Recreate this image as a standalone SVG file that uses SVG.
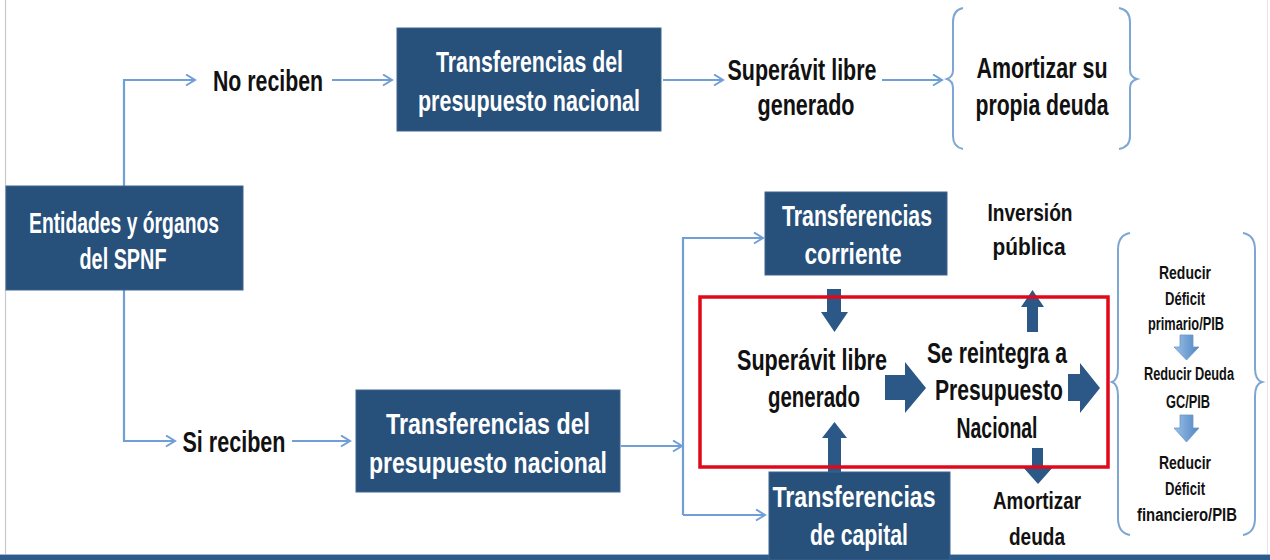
<svg xmlns="http://www.w3.org/2000/svg" width="1270" height="560" viewBox="0 0 1270 560">
<style>
.box{fill:#27507a;stroke:#3d6791;stroke-width:1}
.t{font-family:"Liberation Sans Narrow","Liberation Sans",Arial,sans-serif;font-weight:bold;text-anchor:middle}
.w{fill:#ffffff;font-size:29px}
.k{fill:#111111;font-size:29px}
.s{fill:#111111;font-size:24px}
.r{fill:#111111;font-size:17.5px}
.ln{fill:none;stroke:#6f9fd6;stroke-width:2.2}
.br{fill:none;stroke:#7ea6d3;stroke-width:2}
.blk{fill:#2b5886}
.lb{fill:url(#lbg);stroke:#6d98c8;stroke-width:0.8}
</style>
<defs>
<marker id="ah" markerUnits="userSpaceOnUse" markerWidth="14" markerHeight="14" refX="10" refY="6" orient="auto">
<path d="M1,0.5 L10,6 L1,11.5" fill="none" stroke="#6f9fd6" stroke-width="2"/>
</marker>
<linearGradient id="lbg" x1="0" y1="0" x2="1" y2="0">
<stop offset="0" stop-color="#9cc0e8"/>
<stop offset="1" stop-color="#4f86c2"/>
</linearGradient>
</defs>
<rect x="0" y="0" width="1270" height="560" fill="#ffffff"/>
<line x1="5.5" y1="0" x2="5.5" y2="555" stroke="#c8c8c8" stroke-width="1.2"/>
<line x1="1267.5" y1="0" x2="1267.5" y2="555" stroke="#e6e6e6" stroke-width="1"/>
<rect x="0" y="554" width="1270" height="6" fill="#2d5c8a"/>
<line x1="0" y1="554.5" x2="1270" y2="554.5" stroke="#9bb8d6" stroke-width="1"/>

<g id="connectors">
<path class="ln" d="M124,186 V80 H195" marker-end="url(#ah)"/>
<path class="ln" d="M332,80 H392" marker-end="url(#ah)"/>
<path class="ln" d="M663,80 H723" marker-end="url(#ah)"/>
<path class="ln" d="M882,80 H942" marker-end="url(#ah)"/>
<path class="ln" d="M124,290 V441 H175" marker-end="url(#ah)"/>
<path class="ln" d="M292,441 H350" marker-end="url(#ah)"/>
<path class="ln" d="M621,446 H682" marker-end="url(#ah)"/>
<path class="ln" d="M683,515 V238 H763" marker-end="url(#ah)"/>
<path class="ln" d="M683,515 H765" marker-end="url(#ah)"/>
<polygon class="blk" points="827,289 841,289 841,312 848,312 834.5,332 821,312 827,312"/>
<polygon class="blk" points="828,472 841,472 841,438 847,438 834.5,422 822,438 828,438"/>
<polygon class="blk" points="885,375 905,375 905,362 926,388 905,413 905,400 885,400"/>
<polygon class="blk" points="1068,374 1080,374 1080,363 1100,388 1080,413 1080,401 1068,401"/>
<polygon class="blk" points="1027,332 1038,332 1038,307 1044,307 1032.5,290 1021,307 1027,307"/>
<polygon class="blk" points="1032,448 1043,448 1043,466 1054,466 1038,484 1022,466 1032,466"/>
<polygon class="lb" points="1180,335 1193,335 1193,347 1199,347 1186.5,360 1174,347 1180,347"/>
<polygon class="lb" points="1180,415 1193,415 1193,428 1199,428 1186.5,442 1174,428 1180,428"/>
</g>

<g id="node-entidades">
<rect class="box" x="6" y="186" width="237" height="104"/>
<text class="t w" x="124" y="233" textLength="190" lengthAdjust="spacingAndGlyphs">Entidades y órganos</text>
<text class="t w" x="123" y="269" textLength="87" lengthAdjust="spacingAndGlyphs">del SPNF</text>
</g>

<g id="node-no-reciben">
<text class="t k" x="268" y="91" textLength="110" lengthAdjust="spacingAndGlyphs">No reciben</text>
</g>

<g id="node-transf-top">
<rect class="box" x="397" y="28" width="264" height="103"/>
<text class="t w" x="529.5" y="72" textLength="187" lengthAdjust="spacingAndGlyphs">Transferencias del</text>
<text class="t w" x="529" y="111" textLength="222" lengthAdjust="spacingAndGlyphs">presupuesto nacional</text>
</g>

<g id="node-superavit-top">
<text class="t k" x="802" y="80" textLength="149" lengthAdjust="spacingAndGlyphs">Superávit libre</text>
<text class="t k" x="806" y="115" textLength="97" lengthAdjust="spacingAndGlyphs">generado</text>
</g>

<g id="node-amortizar-propia">
<path class="br" d="M963,8 Q953,10 953,22 L953,70 Q953,77 947,79 Q953,81 953,88 L953,136 Q953,147 963,149"/>
<path class="br" d="M1119,8 Q1130,10 1130,22 L1130,70 Q1130,77 1137,79 Q1130,81 1130,88 L1130,136 Q1130,147 1119,149"/>
<text class="t k" x="1042" y="78" textLength="131" lengthAdjust="spacingAndGlyphs">Amortizar su</text>
<text class="t k" x="1042" y="115" textLength="133" lengthAdjust="spacingAndGlyphs">propia deuda</text>
</g>

<g id="node-si-reciben">
<text class="t k" x="234" y="452" textLength="103" lengthAdjust="spacingAndGlyphs">Si reciben</text>
</g>

<g id="node-transf-bottom">
<rect class="box" x="356" y="390" width="264" height="102"/>
<text class="t w" x="488" y="434" textLength="204" lengthAdjust="spacingAndGlyphs">Transferencias del</text>
<text class="t w" x="488" y="473" textLength="238" lengthAdjust="spacingAndGlyphs">presupuesto nacional</text>
</g>

<g id="node-transf-corriente">
<rect class="box" x="765" y="192" width="182" height="83"/>
<text class="t w" x="857" y="226" textLength="150" lengthAdjust="spacingAndGlyphs">Transferencias</text>
<text class="t w" x="853" y="264" textLength="97" lengthAdjust="spacingAndGlyphs">corriente</text>
</g>

<g id="node-transf-capital">
<rect class="box" x="769" y="472" width="181" height="88"/>
<text class="t w" x="854" y="507" textLength="163" lengthAdjust="spacingAndGlyphs">Transferencias</text>
<text class="t w" x="859" y="545" textLength="98" lengthAdjust="spacingAndGlyphs">de capital</text>
</g>

<g id="node-inversion">
<text class="t s" x="1030" y="221" textLength="85" lengthAdjust="spacingAndGlyphs">Inversión</text>
<text class="t s" x="1029" y="255" textLength="73" lengthAdjust="spacingAndGlyphs">pública</text>
</g>

<g id="node-highlight">
<rect x="700" y="297" width="408" height="170" fill="none" stroke="#e0081a" stroke-width="3.5"/>
</g>

<g id="node-superavit-box">
<text class="t k" x="812" y="370" textLength="150" lengthAdjust="spacingAndGlyphs">Superávit libre</text>
<text class="t k" x="814" y="407" textLength="92" lengthAdjust="spacingAndGlyphs">generado</text>
</g>

<g id="node-reintegra">
<text class="t k" x="997" y="363" textLength="140" lengthAdjust="spacingAndGlyphs">Se reintegra a</text>
<text class="t k" x="999" y="400" textLength="128" lengthAdjust="spacingAndGlyphs">Presupuesto</text>
<text class="t k" x="997" y="438" textLength="81" lengthAdjust="spacingAndGlyphs">Nacional</text>
</g>

<g id="node-amortizar-deuda">
<text class="t s" x="1037" y="509" textLength="88" lengthAdjust="spacingAndGlyphs">Amortizar</text>
<text class="t s" x="1037" y="545" textLength="56" lengthAdjust="spacingAndGlyphs">deuda</text>
</g>

<g id="node-objetivos">
<path class="br" d="M1130,233 Q1118,235 1118,250 L1118,368 Q1118,380 1112,382 Q1118,384 1118,396 L1118,518 Q1118,533 1130,535"/>
<path class="br" d="M1243,233 Q1255,235 1255,250 L1255,368 Q1255,380 1262,382 Q1255,384 1255,396 L1255,518 Q1255,533 1243,535"/>
<text class="t r" x="1185" y="279" textLength="52" lengthAdjust="spacingAndGlyphs">Reducir</text>
<text class="t r" x="1185" y="305" textLength="40" lengthAdjust="spacingAndGlyphs">Déficit</text>
<text class="t r" x="1186" y="330" textLength="76" lengthAdjust="spacingAndGlyphs">primario/PIB</text>
<text class="t r" x="1189" y="380" textLength="90" lengthAdjust="spacingAndGlyphs">Reducir Deuda</text>
<text class="t r" x="1188" y="408" textLength="44" lengthAdjust="spacingAndGlyphs">GC/PIB</text>
<text class="t r" x="1185" y="469" textLength="52" lengthAdjust="spacingAndGlyphs">Reducir</text>
<text class="t r" x="1185" y="495" textLength="40" lengthAdjust="spacingAndGlyphs">Déficit</text>
<text class="t r" x="1187" y="521" textLength="100" lengthAdjust="spacingAndGlyphs">financiero/PIB</text>
</g>
</svg>
